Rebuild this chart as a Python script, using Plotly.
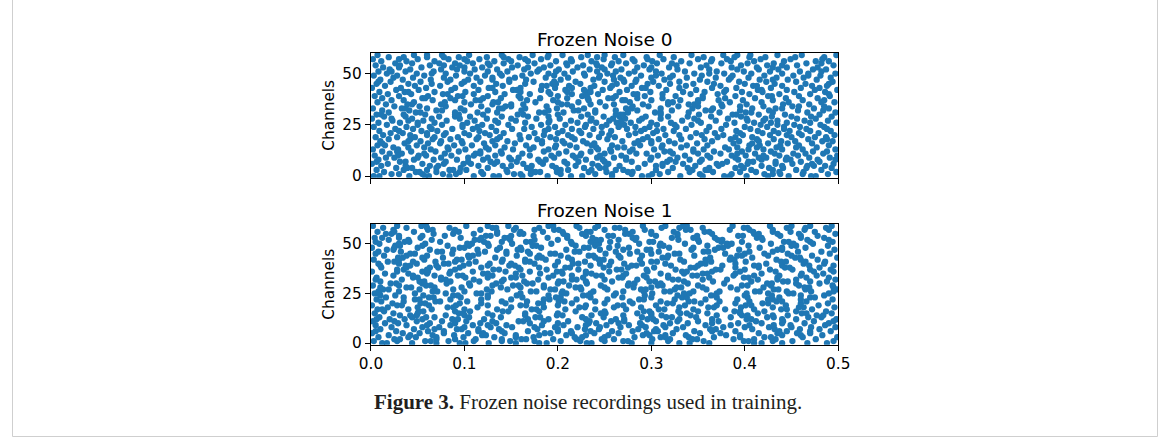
import plotly.graph_objects as go

# Spike times (ms) for each of the 60 channels
noise0_trains = [
    [3, 9, 41, 58, 62, 110, 131, 137, 189, 214, 226, 290, 297, 331, 378, 384, 402, 447, 471, 476, 84, 162, 258, 355, 425],
    [22, 30, 77, 91, 153, 160, 171, 240, 258, 301, 309, 352, 421, 430, 438, 489, 55, 120, 203, 279, 386, 462],
    [14, 48, 52, 70, 118, 176, 181, 199, 233, 275, 280, 318, 366, 395, 412, 463, 498, 95, 146, 252, 341, 437],
    [6, 35, 84, 88, 102, 145, 203, 211, 262, 270, 344, 358, 361, 407, 455, 482, 60, 171, 236, 305, 430],
    [27, 39, 44, 96, 125, 167, 228, 245, 251, 286, 323, 339, 390, 399, 426, 441, 493, 70, 198, 362, 466],
    [11, 63, 72, 115, 141, 150, 194, 219, 266, 305, 312, 347, 372, 418, 467, 474, 486, 37, 172, 243, 396, 440],
    [1, 18, 55, 99, 107, 163, 184, 237, 254, 293, 334, 370, 376, 433, 451, 495, 78, 132, 210, 312, 403, 472],
    [31, 37, 80, 128, 135, 156, 207, 222, 279, 317, 326, 381, 404, 409, 460, 480, 6, 104, 181, 250, 352, 433],
    [8, 46, 67, 92, 120, 179, 187, 230, 248, 299, 341, 354, 393, 444, 449, 478, 150, 273, 320, 418, 497],
    [16, 25, 75, 104, 148, 158, 196, 242, 260, 273, 328, 363, 415, 423, 469, 491, 50, 125, 219, 300, 390, 445],
    [4, 51, 59, 86, 133, 170, 216, 224, 268, 307, 336, 386, 401, 437, 457, 499, 29, 110, 193, 245, 360, 420],
    [20, 33, 79, 112, 117, 162, 201, 250, 284, 295, 350, 374, 411, 452, 465, 484, 57, 140, 225, 323, 392, 432],
    [12, 43, 69, 94, 139, 185, 209, 235, 277, 314, 320, 367, 397, 428, 473, 488, 28, 117, 257, 345],
    [2, 29, 64, 101, 126, 152, 190, 243, 256, 303, 345, 356, 383, 420, 440, 462, 497, 83, 170, 280, 404],
    [24, 57, 82, 123, 143, 174, 220, 264, 271, 311, 332, 379, 392, 434, 477, 40, 197, 241, 413, 455],
    [7, 15, 49, 89, 108, 166, 198, 213, 258, 288, 338, 360, 405, 416, 458, 490, 133, 236, 312, 438],
    [36, 61, 74, 121, 154, 183, 231, 239, 282, 325, 349, 388, 425, 446, 472, 12, 98, 207, 300, 408],
    [10, 40, 53, 97, 130, 146, 205, 227, 269, 300, 319, 365, 394, 439, 454, 483, 494, 75, 183, 286, 415],
    [19, 66, 85, 113, 160, 178, 218, 253, 291, 308, 357, 385, 413, 431, 468, 42, 135, 198, 332, 488],
    [5, 28, 47, 93, 138, 169, 192, 244, 261, 296, 342, 371, 408, 450, 475, 487, 68, 115, 215, 390],
    [13, 42, 78, 105, 127, 159, 211, 234, 276, 315, 330, 377, 398, 427, 461, 496, 60, 185, 255, 354, 445],
    [21, 34, 60, 100, 142, 175, 200, 247, 283, 302, 348, 368, 419, 436, 479, 80, 122, 225, 395, 458],
    [9, 54, 71, 116, 134, 186, 223, 257, 289, 324, 359, 391, 414, 448, 470, 492, 30, 205, 306, 431],
    [26, 45, 87, 109, 151, 164, 215, 238, 274, 313, 337, 375, 406, 442, 466, 65, 190, 293, 488],
    [3, 38, 63, 98, 129, 172, 197, 229, 265, 298, 327, 362, 400, 424, 459, 485, 114, 247, 283, 442],
    [17, 50, 76, 119, 147, 182, 208, 252, 267, 271, 306, 343, 380, 417, 453, 481, 98, 230, 325, 435],
    [8, 31, 68, 103, 136, 165, 221, 241, 263, 278, 321, 353, 389, 410, 445, 498, 50, 190, 300, 428, 470],
    [23, 56, 81, 111, 155, 191, 214, 255, 268, 287, 333, 369, 403, 435, 464, 489, 40, 133, 235, 350, 420],
    [1, 44, 65, 95, 124, 177, 202, 236, 259, 272, 310, 346, 382, 422, 456, 476, 22, 150, 290, 402],
    [14, 37, 73, 106, 140, 168, 225, 249, 266, 294, 339, 364, 396, 429, 471, 493, 90, 190, 318, 450],
    [6, 11, 58, 90, 94, 157, 163, 232, 262, 267, 270, 351, 387, 391, 443, 480, 35, 120, 200, 310, 415],
    [19, 48, 53, 114, 180, 186, 206, 275, 304, 310, 373, 401, 407, 467, 497, 90, 135, 240, 340, 430],
    [41, 70, 76, 125, 161, 217, 222, 240, 285, 322, 358, 364, 426, 457, 484, 12, 100, 190, 262, 395],
    [2, 33, 37, 96, 137, 141, 199, 228, 273, 279, 344, 366, 408, 433, 440, 474, 60, 165, 310, 490],
    [25, 52, 118, 144, 150, 188, 251, 280, 297, 329, 376, 395, 420, 451, 458, 80, 215, 350, 485],
    [16, 39, 44, 107, 150, 163, 204, 210, 260, 291, 340, 346, 402, 441, 469, 75, 130, 235, 318, 375],
    [7, 46, 79, 131, 136, 176, 222, 245, 277, 318, 323, 384, 418, 447, 482, 496, 100, 200, 350],
    [22, 35, 66, 112, 117, 167, 195, 233, 269, 272, 331, 372, 398, 430, 462, 90, 300, 350, 485],
    [12, 55, 58, 120, 139, 181, 210, 254, 259, 312, 355, 379, 411, 444, 478, 85, 160, 232, 285],
    [4, 30, 61, 93, 98, 158, 200, 226, 231, 293, 326, 390, 425, 429, 491, 125, 262, 355, 458],
    [18, 43, 77, 82, 143, 170, 215, 243, 281, 285, 342, 371, 405, 437, 470, 110, 192, 312, 490],
    [9, 36, 40, 101, 133, 190, 230, 235, 266, 299, 334, 357, 397, 419, 453, 486, 68, 160, 210, 378],
    [27, 51, 86, 115, 152, 156, 208, 248, 274, 316, 348, 380, 414, 418, 475, 499, 182, 228, 445],
    [1, 32, 59, 126, 130, 160, 197, 235, 256, 290, 294, 365, 391, 428, 460, 90, 215, 330, 480],
    [15, 47, 74, 110, 141, 183, 188, 239, 279, 308, 337, 374, 409, 413, 472, 488, 212, 258, 440],
    [6, 40, 65, 97, 134, 194, 198, 224, 263, 296, 345, 367, 400, 432, 465, 165, 320, 490],
    [21, 53, 82, 117, 148, 174, 219, 250, 271, 302, 330, 360, 394, 423, 455, 494, 8, 100, 196, 283],
    [10, 34, 64, 104, 130, 166, 203, 238, 284, 314, 352, 383, 416, 446, 477, 85, 148, 260, 270, 430],
    [24, 45, 78, 113, 154, 187, 211, 244, 267, 300, 338, 369, 404, 434, 463, 492, 130, 320, 385],
    [3, 28, 57, 91, 122, 162, 196, 229, 259, 289, 323, 354, 387, 421, 452, 481, 140, 245, 305, 468],
    [17, 49, 80, 106, 138, 171, 207, 253, 276, 311, 346, 378, 407, 440, 468, 497, 65, 190, 228, 362],
    [8, 37, 67, 100, 146, 178, 216, 242, 282, 305, 336, 370, 399, 427, 459, 22, 125, 198, 262, 482],
    [20, 42, 75, 111, 135, 164, 201, 234, 268, 298, 328, 362, 392, 436, 473, 487, 92, 180, 250, 415],
    [13, 54, 87, 119, 151, 185, 221, 247, 285, 319, 353, 386, 413, 445, 478, 30, 100, 168, 300, 430],
    [5, 31, 63, 95, 127, 157, 192, 227, 257, 292, 327, 359, 396, 424, 456, 495, 78, 210, 242, 440],
    [26, 44, 73, 109, 142, 175, 209, 241, 273, 306, 341, 375, 403, 431, 466, 90, 125, 258, 322, 482],
    [11, 38, 68, 103, 132, 168, 198, 236, 265, 301, 332, 364, 410, 442, 476, 490, 150, 215, 282, 385],
    [2, 50, 83, 116, 147, 182, 214, 249, 280, 313, 350, 381, 417, 449, 483, 30, 100, 165, 296, 365],
    [19, 35, 60, 94, 124, 159, 189, 225, 261, 295, 324, 356, 389, 422, 454, 485, 78, 142, 242, 405],
    [7, 46, 76, 105, 140, 173, 205, 232, 270, 309, 343, 377, 406, 435, 461, 498, 60, 190, 250, 392],
]

noise1_trains = [
    [12, 17, 44, 95, 101, 126, 180, 188, 231, 236, 279, 330, 341, 362, 410, 418, 467, 488, 70, 155, 300, 440],
    [3, 58, 64, 83, 140, 149, 203, 224, 270, 275, 318, 356, 399, 404, 451, 495, 28, 110, 175, 250, 430],
    [25, 31, 70, 112, 161, 166, 195, 247, 260, 301, 344, 349, 388, 433, 476, 90, 140, 220, 320, 410],
    [8, 40, 48, 99, 132, 174, 218, 226, 282, 310, 315, 367, 421, 428, 462, 499, 70, 155, 250, 340, 395],
    [19, 66, 89, 119, 123, 155, 209, 254, 291, 298, 337, 380, 395, 440, 483, 42, 180, 230, 315, 460],
    [1, 34, 52, 104, 143, 186, 192, 239, 265, 323, 352, 374, 415, 456, 470, 78, 120, 215, 295, 435],
    [27, 61, 78, 115, 168, 200, 214, 258, 303, 307, 346, 390, 437, 445, 492, 5, 140, 235, 280, 365, 470],
    [10, 46, 92, 97, 137, 178, 229, 244, 286, 327, 363, 369, 408, 459, 480, 68, 115, 200, 305, 432],
    [22, 55, 73, 128, 151, 197, 221, 267, 294, 334, 377, 400, 426, 471, 497, 100, 175, 245, 315, 450],
    [5, 38, 85, 109, 145, 183, 206, 252, 276, 313, 358, 385, 431, 449, 486, 60, 125, 230, 290, 405],
    [15, 29, 63, 117, 134, 170, 233, 241, 288, 320, 339, 393, 418, 464, 490, 90, 200, 265, 365, 440],
    [2, 49, 76, 102, 158, 163, 211, 257, 271, 305, 350, 372, 412, 441, 474, 25, 130, 185, 234, 328, 495],
    [6, 20, 36, 87, 93, 121, 168, 190, 262, 271, 296, 302, 365, 402, 407, 455, 498, 55, 230, 330, 440],
    [9, 44, 59, 68, 139, 176, 181, 226, 249, 316, 322, 348, 424, 431, 468, 482, 105, 290, 385],
    [31, 42, 49, 80, 130, 199, 205, 236, 300, 311, 342, 397, 403, 446, 477, 484, 100, 165, 270, 370, 430],
    [4, 24, 94, 99, 125, 165, 246, 251, 285, 331, 338, 360, 414, 461, 466, 493, 50, 200, 300, 395],
    [14, 51, 56, 106, 141, 147, 219, 292, 298, 329, 389, 395, 421, 487, 90, 180, 250, 350, 455],
    [7, 12, 65, 100, 172, 177, 208, 273, 308, 314, 379, 439, 445, 472, 40, 135, 240, 345, 410],
    [18, 82, 88, 114, 150, 223, 229, 289, 361, 367, 396, 458, 463, 496, 50, 185, 260, 330, 430],
    [1, 28, 33, 91, 160, 166, 230, 264, 270, 336, 401, 407, 444, 479, 62, 125, 200, 305, 370],
    [23, 53, 58, 144, 179, 184, 250, 317, 323, 353, 419, 425, 489, 95, 118, 215, 280, 390, 460],
    [11, 69, 74, 103, 167, 201, 207, 277, 340, 346, 373, 434, 440, 466, 35, 140, 240, 310, 405],
    [6, 47, 52, 118, 185, 191, 253, 287, 292, 358, 392, 425, 430, 494, 85, 150, 220, 325, 460],
    [16, 62, 67, 96, 162, 198, 203, 269, 333, 338, 403, 437, 470, 475, 35, 125, 235, 300, 370],
    [26, 56, 88, 93, 156, 227, 232, 293, 328, 364, 369, 429, 460, 485, 10, 125, 190, 260, 400],
    [4, 9, 47, 113, 118, 160, 204, 209, 262, 301, 335, 341, 402, 447, 452, 490, 80, 235, 370, 425],
    [30, 66, 71, 129, 171, 177, 238, 270, 314, 320, 373, 411, 416, 471, 8, 100, 205, 292, 345, 445, 495],
    [13, 19, 88, 124, 146, 192, 197, 253, 289, 294, 359, 392, 431, 436, 499, 52, 225, 325, 465],
    [38, 43, 97, 139, 185, 219, 224, 281, 327, 332, 385, 420, 464, 469, 10, 68, 160, 250, 300, 355, 495],
    [2, 59, 64, 106, 152, 158, 212, 246, 307, 312, 350, 397, 403, 458, 494, 30, 130, 185, 275, 428],
    [21, 27, 81, 134, 167, 173, 231, 276, 282, 339, 378, 424, 429, 480, 55, 105, 200, 310, 455],
    [10, 52, 57, 116, 164, 201, 206, 258, 298, 304, 366, 407, 441, 446, 488, 85, 140, 230, 335, 470],
    [33, 75, 80, 142, 179, 215, 220, 285, 323, 329, 381, 414, 455, 497, 5, 110, 250, 355, 435],
    [6, 45, 50, 101, 150, 155, 227, 265, 269, 318, 362, 399, 404, 466, 75, 125, 190, 295, 435, 490],
    [24, 68, 93, 98, 162, 195, 241, 247, 292, 344, 349, 388, 437, 477, 45, 130, 215, 270, 318, 410, 460],
    [15, 40, 84, 120, 125, 181, 230, 236, 273, 310, 355, 360, 418, 461, 484, 60, 155, 205, 335, 390],
    [1, 55, 61, 109, 144, 199, 204, 255, 296, 333, 338, 395, 433, 474, 28, 85, 170, 230, 365, 495],
    [28, 35, 90, 131, 137, 188, 222, 263, 268, 326, 369, 374, 427, 451, 492, 60, 160, 295, 400, 470],
    [11, 63, 72, 118, 158, 208, 213, 249, 303, 342, 347, 390, 443, 448, 38, 95, 180, 275, 415, 480],
    [37, 42, 99, 148, 154, 197, 235, 279, 284, 321, 376, 410, 415, 469, 495, 10, 70, 125, 255, 350, 440],
    [8, 49, 78, 83, 127, 175, 216, 222, 271, 315, 353, 358, 423, 463, 30, 105, 150, 245, 290, 390, 485],
    [18, 25, 69, 112, 165, 170, 229, 257, 300, 306, 364, 401, 439, 444, 486, 45, 90, 140, 200, 335, 465],
    [3, 57, 92, 97, 141, 187, 244, 249, 288, 331, 384, 389, 434, 478, 30, 165, 215, 358, 460],
    [29, 34, 77, 133, 178, 183, 211, 267, 312, 317, 363, 408, 454, 459, 499, 55, 105, 240, 385],
    [14, 60, 104, 109, 156, 203, 233, 238, 290, 346, 392, 397, 425, 472, 38, 180, 265, 318, 450],
    [5, 42, 47, 87, 145, 192, 197, 251, 277, 325, 330, 379, 421, 446, 491, 115, 170, 300, 400],
    [32, 71, 76, 122, 168, 218, 223, 262, 308, 356, 361, 405, 457, 482, 8, 145, 285, 430],
    [17, 24, 63, 114, 157, 161, 209, 245, 295, 299, 343, 394, 435, 440, 496, 88, 135, 270, 368],
    [1, 50, 95, 100, 138, 182, 228, 233, 276, 319, 372, 377, 416, 465, 25, 160, 255, 345, 440],
    [26, 31, 82, 126, 173, 177, 219, 264, 309, 313, 360, 404, 450, 455, 489, 55, 105, 240, 382],
    [9, 58, 103, 108, 151, 193, 239, 244, 287, 336, 381, 386, 428, 473, 30, 125, 215, 310, 452],
    [36, 41, 74, 121, 166, 171, 214, 256, 298, 302, 351, 397, 442, 447, 494, 5, 140, 235, 375, 470],
    [19, 65, 111, 116, 149, 200, 241, 246, 283, 329, 371, 376, 419, 467, 40, 175, 265, 350, 490],
    [4, 12, 53, 96, 143, 147, 189, 237, 280, 284, 322, 368, 413, 418, 460, 485, 30, 118, 210, 345],
    [30, 79, 123, 128, 174, 210, 254, 259, 305, 349, 393, 398, 438, 478, 55, 150, 230, 328, 460],
    [16, 22, 67, 110, 159, 163, 206, 226, 272, 276, 328, 365, 410, 415, 458, 497, 88, 135, 300, 435],
    [7, 46, 89, 94, 135, 184, 231, 235, 280, 324, 357, 362, 409, 449, 475, 25, 160, 205, 300, 430],
    [24, 61, 66, 117, 153, 196, 201, 250, 293, 337, 342, 384, 430, 464, 90, 175, 272, 405, 490],
    [13, 38, 84, 130, 134, 180, 223, 261, 266, 311, 355, 399, 403, 445, 487, 60, 155, 240, 330, 465],
    [2, 54, 59, 102, 147, 190, 195, 243, 291, 334, 338, 387, 427, 470, 493, 28, 125, 220, 315, 450],
]

panel_titles = ["Frozen Noise 0", "Frozen Noise 1"]
x_ticks = [0.0, 0.1, 0.2, 0.3, 0.4, 0.5]
x_tick_labels = ["0.0", "0.1", "0.2", "0.3", "0.4", "0.5"]
y_ticks = [0, 25, 50]
y_tick_labels = ["0", "25", "50"]
caption_bold = "Figure 3."
caption_text = "Frozen noise recordings used in training."


def to_points(trains):
    xs, ys = [], []
    for ch, train in enumerate(trains):
        for t in train:
            xs.append(t / 1000.0)
            ys.append(ch)
    return xs, ys


W, H = 1170, 445
px = lambda v: v / W
py = lambda v: 1 - v / H

BLUE = "#1f77b4"
FONT = "DejaVu Sans"

fig = go.Figure()
for i, trains in enumerate([noise0_trains, noise1_trains]):
    xs, ys = to_points(trains)
    fig.add_trace(go.Scatter(
        x=xs, y=ys, mode="markers",
        marker=dict(size=6.3, color=BLUE, line=dict(width=0)),
        xaxis="x" if i == 0 else "x2", yaxis="y" if i == 0 else "y2",
        showlegend=False, hoverinfo="skip",
    ))

x_dom = [px(366.5), px(843.5)]
panels_px = [(54, 181), (228, 351)]

axis_common = dict(
    showline=True, linecolor="black", linewidth=1.3, mirror=True,
    ticks="outside", ticklen=5, tickwidth=1.2, tickcolor="black",
    showgrid=False, zeroline=False,
    tickfont=dict(family=FONT, size=15.3, color="black"),
)

fig.update_layout(
    width=W, height=H,
    margin=dict(l=0, r=0, t=0, b=0),
    paper_bgcolor="white", plot_bgcolor="white",
    xaxis=dict(domain=x_dom, range=[0, 0.5], tickvals=x_ticks, ticktext=x_tick_labels,
               showticklabels=False, anchor="y", **axis_common),
    yaxis=dict(domain=[py(panels_px[0][1]), py(panels_px[0][0])], range=[-0.8, 60],
               tickvals=y_ticks, ticktext=y_tick_labels, anchor="x", **axis_common),
    xaxis2=dict(domain=x_dom, range=[0, 0.5], tickvals=x_ticks, ticktext=x_tick_labels,
                showticklabels=True, anchor="y2", **axis_common),
    yaxis2=dict(domain=[py(panels_px[1][1]), py(panels_px[1][0])], range=[-0.8, 60],
                tickvals=y_ticks, ticktext=y_tick_labels, anchor="x2", **axis_common),
)

annotations = []
title_y = [40, 214]
for i in range(2):
    annotations.append(dict(
        text=panel_titles[i], x=px(605), y=py(title_y[i]), xref="paper", yref="paper",
        xanchor="center", yanchor="middle", showarrow=False,
        font=dict(family=FONT, size=18.5, color="black"),
    ))
    annotations.append(dict(
        text="Channels", x=px(324), y=py((panels_px[i][0] + panels_px[i][1]) / 2),
        xref="paper", yref="paper", xanchor="center", yanchor="middle",
        textangle=-90, showarrow=False,
        font=dict(family=FONT, size=15.3, color="black"),
    ))
annotations.append(dict(
    text=f"<b>{caption_bold}</b> {caption_text}", x=px(588), y=py(409),
    xref="paper", yref="paper", xanchor="center", yanchor="middle", showarrow=False,
    font=dict(family="Liberation Serif", size=21, color="#231f20"),
))
fig.update_layout(annotations=annotations)

fig.add_shape(type="rect", xref="paper", yref="paper",
              x0=px(0.5), x1=px(1169.5), y0=py(444.5), y1=1.05,
              line=dict(color="#cfcfcf", width=1), fillcolor="rgba(0,0,0,0)", layer="below")

fig.write_html("out.html", config={"displayModeBar": False},
               post_script="document.body.style.margin='0px';")
